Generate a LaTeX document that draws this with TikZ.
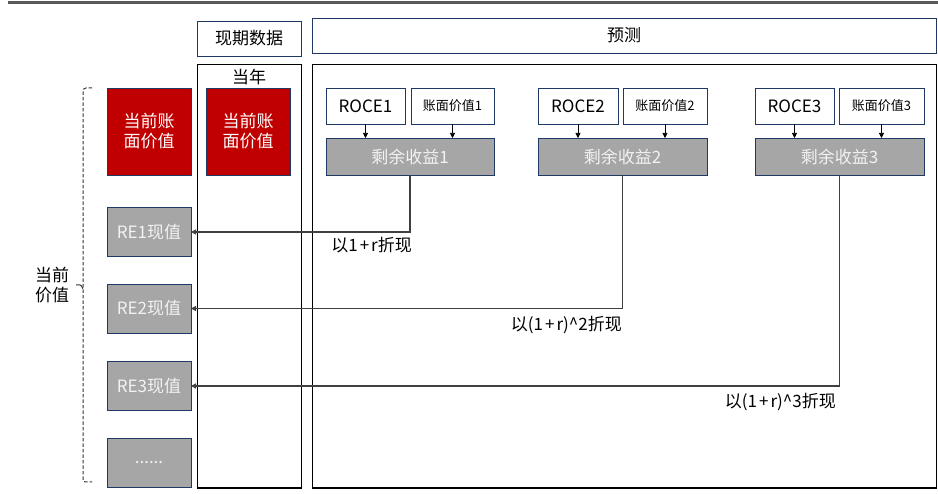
\documentclass[tikz,border=0pt]{standalone}
\usepackage{fontspec}
\setmainfont{Noto Sans CJK SC}
\usetikzlibrary{arrows.meta}
\definecolor{navy}{HTML}{203864}
\definecolor{redbox}{HTML}{C00000}
\definecolor{graybox}{HTML}{A6A6A6}
\definecolor{linegray}{HTML}{404040}
\definecolor{bargray}{HTML}{595959}
\definecolor{lighttext}{HTML}{F2F2F2}
\newcommand{\plusgap}{\hspace{2pt}+\hspace{2pt}}
\begin{document}
\begin{tikzpicture}[x=1pt,y=-1pt,
  base/.style={inner sep=0pt, outer sep=0pt, align=center, font=\fontsize{17}{20}\selectfont},
  hdr/.style={base, draw=navy, line width=0.9pt, fill=white, minimum height=35pt},
  redb/.style={base, draw=navy, line width=0.8pt, fill=redbox, text=white, minimum width=84pt, minimum height=87pt},
  grayb/.style={base, draw=navy, line width=0.8pt, fill=graybox, text=lighttext, minimum width=84pt, minimum height=49pt},
  wbox/.style={base, draw=navy, line width=0.8pt, fill=white, minimum height=36pt},
  bvbox/.style={wbox, font=\fontsize{13}{15}\selectfont},
  rbox/.style={base, draw=navy, line width=0.8pt, fill=graybox, text=lighttext, minimum height=37pt},
  colbox/.style={draw=black, line width=1pt},
  conn/.style={draw=linegray, line width=1.5pt, -{Triangle[length=5pt,width=5pt]}},
  smallarr/.style={draw=black, line width=0.6pt, -{Triangle[length=5pt,width=5pt]}},
  lab/.style={font=\fontsize{17}{19}\selectfont, inner sep=0pt, anchor=east},
  brk/.style={draw=linegray!80!black, line width=1pt}
]
\useasboundingbox (0,0) rectangle (938,494);
% top bar
\fill[bargray] (8,1) rectangle (938,4.5);

% headers
\node[hdr, minimum width=104pt] (cur) at (249,38.5) {现期数据};
\node[hdr, minimum width=624pt] (fcst) at (624,35.5) {预测};

% column frames
\draw[colbox] (197,65) rectangle (301,488);
\draw[colbox] (312,65) rectangle (936,488);
\node[base] (year) at (249,77) {当年};

% left column
\node[redb] (bv0) at (149,131.5) {当前账\\面价值};
\node[redb] (bv0b) at (248,131.5) {当前账\\面价值};
\node[grayb] (re1) at (149,232) {RE1现值};
\node[grayb] (re2) at (149,308.5) {RE2现值};
\node[grayb] (re3) at (149,386) {RE3现值};
\node[grayb] (re4) at (149,463) {......};

% bracket
\draw[brk, dash pattern=on 3.5pt off 2pt] (92,88) -- (86,88) to[out=180,in=90] (83,91) -- (83,480) to[out=-90,in=180] (86,482) -- (92,482);
\draw[brk] (83,288) to[out=-90,in=0] (80,285) -- (76,285);
\node[base, anchor=center] (pv) at (52,285) {当前\\价值};

% forecast boxes
\node[wbox, minimum width=79pt] (roce1) at (365.5,106) {ROCE1};
\node[bvbox, minimum width=83pt] (bv1) at (452.5,106) {账面价值1};
\node[rbox, minimum width=168pt] (rs1) at (410,156.5) {剩余收益1};

\node[wbox, minimum width=80pt] (roce2) at (578,106) {ROCE2};
\node[bvbox, minimum width=84pt] (bv2) at (665,106) {账面价值2};
\node[rbox, minimum width=169pt] (rs2) at (622.5,156.5) {剩余收益2};

\node[wbox, minimum width=79pt] (roce3) at (794.5,106) {ROCE3};
\node[bvbox, minimum width=85pt] (bv3) at (881.5,106) {账面价值3};
\node[rbox, minimum width=169pt] (rs3) at (839.5,156.5) {剩余收益3};

% small arrows
\foreach \a/\b in {roce1/rs1, bv1/rs1, roce2/rs2, bv2/rs2, roce3/rs3, bv3/rs3}
  \draw[smallarr] (\a.south) -- (\a.south |- \b.north);

% discount connectors
\draw[conn] (rs1.south) |- (re1.east);
\draw[conn] (rs2.south) |- (re2.east);
\draw[conn] (rs3.south) |- (re3.east);

\node[lab] (l1) at (412,245) {以1\plusgap r折现};
\node[lab] (l2) at (622,325) {以(1\plusgap r)\textasciicircum 2折现};
\node[lab] (l3) at (836,402) {以(1\plusgap r)\textasciicircum 3折现};
\end{tikzpicture}
\end{document}
